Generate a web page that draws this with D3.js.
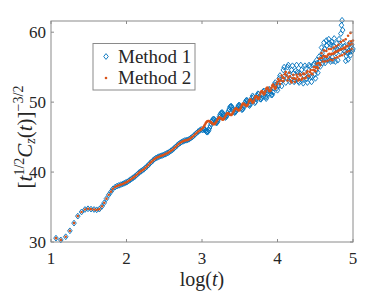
<!DOCTYPE html>
<html>
<head>
<meta charset="utf-8">
<script src="https://cdn.jsdelivr.net/npm/d3@7"></script>
<style>
  body { margin: 0; background: #fff; }
  text { font-family: 'Liberation Serif', 'Times New Roman', serif; fill: #262626; }
</style>
</head>
<body>
<div id="chart"></div>
<script>
// log(t) grid where both methods coincide
const logTEarly = [1.066, 1.13, 1.195, 1.25, 1.305, 1.355, 1.405, 1.45, 1.49, 1.53, 1.57, 1.605, 1.64,
  1.675, 1.705, 1.735, 1.765, 1.795, 1.82, 1.85, 1.875, 1.9, 1.925, 1.95, 1.97, 1.99,
  2.01, 2.03, 2.05, 2.07, 2.09, 2.11, 2.13, 2.15, 2.17, 2.19, 2.21, 2.23, 2.25, 2.27, 2.29,
  2.31, 2.33, 2.35, 2.37, 2.39, 2.41, 2.43, 2.45, 2.47, 2.49, 2.51, 2.53, 2.55, 2.57, 2.59,
  2.61, 2.63, 2.65, 2.67, 2.69, 2.71, 2.73, 2.75, 2.77, 2.79, 2.81, 2.83, 2.85, 2.87, 2.89,
  2.91, 2.93, 2.95, 2.97, 2.99];
const yEarly = [30.55, 30.3, 30.75, 31.6, 32.7, 33.7, 34.3, 34.65, 34.75, 34.7, 34.65, 34.6, 34.7,
  35.1, 35.6, 36.2, 36.75, 37.2, 37.6, 37.85, 38.0, 38.1, 38.2, 38.3, 38.4, 38.5,
  38.6, 38.75, 38.9, 39.05, 39.2, 39.35, 39.55, 39.75, 39.95, 40.1, 40.25, 40.4, 40.6, 40.8, 41.0,
  41.25, 41.45, 41.65, 41.85, 42.0, 42.1, 42.2, 42.3, 42.35, 42.45, 42.55, 42.65, 42.75, 42.9, 43.05,
  43.2, 43.4, 43.6, 43.8, 44.0, 44.15, 44.3, 44.4, 44.5, 44.55, 44.6, 44.7, 44.85, 45.0, 45.2,
  45.4, 45.6, 45.8, 45.95, 46.1];

// log(t) grid for the oscillating tail
const logTLate = [3.01, 3.02, 3.03, 3.04, 3.05, 3.06, 3.07, 3.08, 3.09, 3.10,
  3.11, 3.12, 3.13, 3.14, 3.15, 3.16, 3.17, 3.18, 3.19, 3.20,
  3.21, 3.22, 3.23, 3.24, 3.25, 3.26, 3.27, 3.28, 3.29, 3.30,
  3.31, 3.32, 3.33, 3.34, 3.35, 3.36, 3.37, 3.38, 3.39, 3.40,
  3.41, 3.42, 3.43, 3.44, 3.45, 3.46, 3.47, 3.48, 3.49, 3.50,
  3.51, 3.52, 3.53, 3.54, 3.55, 3.56, 3.57, 3.58, 3.59, 3.60,
  3.61, 3.62, 3.63, 3.64, 3.65, 3.66, 3.67, 3.68, 3.69, 3.70,
  3.71, 3.72, 3.73, 3.74, 3.75, 3.76, 3.77, 3.78, 3.79, 3.80,
  3.81, 3.82, 3.83, 3.84, 3.85, 3.86, 3.87, 3.88, 3.89, 3.90,
  3.91, 3.92, 3.93, 3.94, 3.95, 3.96, 3.97, 3.98, 3.99, 4.00,
  4.011, 4.022, 4.033, 4.044, 4.055, 4.066, 4.077, 4.088, 4.099, 4.11, 4.121, 4.132, 4.143, 4.154,
  4.165, 4.176, 4.187, 4.198, 4.209, 4.22, 4.231, 4.242, 4.253, 4.264, 4.275, 4.286, 4.297, 4.308,
  4.319, 4.33, 4.341, 4.352, 4.363, 4.374, 4.385, 4.396, 4.407, 4.418, 4.429, 4.44, 4.451, 4.462,
  4.473, 4.484, 4.495,
  4.503, 4.511, 4.519, 4.527, 4.535, 4.543, 4.551, 4.559, 4.567, 4.575, 4.583, 4.591, 4.599, 4.607,
  4.615, 4.623, 4.631, 4.639, 4.647, 4.655, 4.663, 4.671, 4.679, 4.687, 4.695, 4.703, 4.711, 4.719,
  4.727, 4.735, 4.743, 4.751, 4.759, 4.767, 4.775, 4.783, 4.791, 4.799, 4.807, 4.815, 4.823, 4.831,
  4.839, 4.847, 4.855, 4.863, 4.871, 4.879, 4.887, 4.895, 4.903, 4.911, 4.919, 4.927, 4.935, 4.943,
  4.951, 4.959, 4.967, 4.975, 4.983, 4.991, 4.999];

const method1Late = [46.0, 46.15, 46.2, 46.05, 45.9, 45.75, 45.7, 45.8, 46.0, 46.3,
  46.6, 46.9, 47.2, 47.45, 47.6, 47.55, 47.4, 47.2, 47.0, 47.1,
  47.3, 47.6, 47.9, 48.2, 48.4, 48.5, 48.5, 48.3, 48.1, 47.9,
  47.8, 47.9, 48.1, 48.4, 48.7, 49.0, 49.3, 49.4, 49.4, 49.2,
  48.9, 48.7, 48.5, 48.55, 48.7, 48.95, 49.2, 49.45, 49.6, 49.5,
  49.3, 49.1, 48.9, 49.0, 49.2, 49.55, 49.9, 50.15, 50.3, 50.2,
  50.0, 49.65, 49.5, 49.7, 50.15, 50.6, 50.9, 50.7, 50.3, 49.9,
  50.05, 50.45, 50.9, 51.2, 51.15, 50.8, 50.45, 50.4, 50.6, 51.1,
  51.5, 51.6, 51.25, 50.8, 50.5, 50.75, 51.2, 51.6, 51.85, 51.7,
  51.3, 51.0, 51.05, 51.4, 52.0, 52.5, 52.8, 52.45, 52.0, 51.7,
  52.3, 53.4, 53.8, 52.9, 52.3, 53.2, 54.6, 55.0, 53.8, 52.8, 53.5, 55.0, 55.3, 54.0,
  52.9, 53.2, 54.6, 55.2, 54.1, 52.9, 53.1, 54.5, 55.3, 54.3, 53.0, 52.8, 54.1, 55.3,
  54.6, 53.1, 52.7, 53.8, 55.2, 54.8, 53.3, 52.8, 53.7, 55.3, 55.1, 53.6, 52.9, 53.6,
  55.3, 55.5, 54.0,
  53.4, 54.5, 56.0, 55.6, 54.2, 55.2, 56.5, 55.8, 55.1, 56.3, 57.8, 57.0, 55.6, 56.4,
  58.5, 57.6, 55.6, 56.2, 58.8, 58.1, 56.0, 56.3, 59.0, 58.4, 56.1, 55.8, 58.2, 58.6,
  56.4, 55.9, 58.0, 59.1, 57.3, 55.8, 57.0, 58.4, 57.5, 56.0, 57.8, 59.0, 58.0, 57.2,
  59.8, 61.0, 61.7, 60.3, 58.5, 57.4, 58.0, 57.2, 55.9, 56.6, 57.8, 57.0, 56.1, 57.3,
  58.4, 57.2, 56.7, 57.8, 58.2, 57.3, 57.6];

const method2Late = [46.3, 46.45, 46.6, 46.8, 47.0, 47.15, 47.25, 47.3, 47.3, 47.25,
  47.2, 47.1, 47.0, 46.9, 46.85, 46.85, 46.9, 47.05, 47.2, 47.4,
  47.6, 47.75, 47.8, 47.75, 47.7, 47.6, 47.5, 47.5, 47.6, 47.8,
  48.0, 48.2, 48.35, 48.4, 48.4, 48.3, 48.2, 48.15, 48.15, 48.3,
  48.5, 48.7, 48.9, 49.05, 49.1, 49.05, 48.95, 48.85, 48.8, 48.9,
  49.1, 49.35, 49.6, 49.75, 49.8, 49.7, 49.6, 49.5, 49.4, 49.5,
  49.7, 50.05, 50.3, 50.4, 50.3, 50.1, 49.9, 50.0, 50.25, 50.6,
  50.85, 50.85, 50.7, 50.5, 50.45, 50.7, 51.1, 51.4, 51.6, 51.5,
  51.3, 51.1, 51.25, 51.55, 51.9, 52.05, 52.05, 51.8, 51.6, 51.55,
  51.7, 52.05, 52.35, 52.5, 52.3, 52.05, 51.9, 52.15, 52.55, 52.9,
  53.3, 53.0, 52.6, 53.1, 53.8, 53.5, 53.0, 53.4, 54.0, 54.3, 53.8, 53.1, 53.5, 54.2,
  53.7, 53.0, 52.8, 53.4, 53.9, 53.4, 52.9, 53.3, 53.9, 53.6, 53.1, 53.3, 54.0, 53.8,
  53.2, 53.4, 54.1, 54.0, 53.4, 53.5, 54.2, 54.4, 53.8, 53.7, 54.3, 54.6, 54.1, 54.0,
  54.6, 55.0, 54.5,
  54.4, 55.0, 55.5, 55.0, 54.8, 55.6, 56.2, 55.6, 55.3, 56.3, 57.0, 56.3, 55.8, 56.6,
  57.4, 56.6, 55.8, 56.5, 57.3, 56.5, 55.9, 56.8, 57.6, 56.9, 56.1, 56.8, 57.6, 56.9,
  56.0, 56.9, 57.8, 57.0, 56.3, 57.2, 58.0, 57.2, 56.4, 57.3, 58.2, 57.4, 56.6, 57.5,
  58.6, 57.6, 56.7, 57.6, 58.8, 57.8, 56.9, 57.7, 59.0, 58.0, 57.2, 58.0, 59.5, 58.4,
  57.3, 58.2, 59.9, 58.7, 57.6, 58.3, 58.8];

const xTicks = [1, 2, 3, 4, 5];
const yTicks = [30, 40, 50, 60];
const seriesNames = ['Method 1', 'Method 2'];

const W = 390, H = 293;
const margin = { top: 21, right: 37, bottom: 51, left: 51 };
const width = W - margin.left - margin.right,
  height = H - margin.top - margin.bottom;

const blue = '#0072BD', orange = '#D95319', frame = '#8a8a8a';

const x = d3.scaleLinear().domain([1, 5]).range([0, width]);
const y = d3.scaleLinear().domain([30, 61.6]).range([height, 0]);

const method1 = logTEarly.map((t, i) => [t, yEarly[i]])
  .concat(logTLate.map((t, i) => [t, method1Late[i]]));
const method2 = logTEarly.map((t, i) => [t, yEarly[i]])
  .concat(logTLate.map((t, i) => [t, method2Late[i]]));

const svg = d3.select('#chart').append('svg')
  .attr('width', W).attr('height', H);

const g = svg.append('g')
  .attr('transform', `translate(${margin.left},${margin.top})`);

// diamond marker, a bit taller than wide like MATLAB's 'd'
const diamond = 'M0,-2.9L2.3,0L0,2.9L-2.3,0Z';

g.append('g').selectAll('path')
  .data(method1)
  .join('path')
  .attr('d', diamond)
  .attr('transform', (d) => `translate(${x(d[0])},${y(d[1])})`)
  .attr('fill', 'none')
  .attr('stroke', blue)
  .attr('stroke-width', 0.9);

g.append('g').selectAll('circle')
  .data(method2)
  .join('circle')
  .attr('cx', (d) => x(d[0]))
  .attr('cy', (d) => y(d[1]))
  .attr('r', 1.3)
  .attr('fill', orange);

// box and ticks (inward on all four sides)
g.append('rect')
  .attr('width', width).attr('height', height)
  .attr('fill', 'none').attr('stroke', frame).attr('stroke-width', 1);

const tickLen = 3;
xTicks.forEach((t) => {
  g.append('line').attr('x1', x(t)).attr('x2', x(t)).attr('y1', height).attr('y2', height - tickLen)
    .attr('stroke', frame);
  g.append('line').attr('x1', x(t)).attr('x2', x(t)).attr('y1', 0).attr('y2', tickLen)
    .attr('stroke', frame);
});
yTicks.forEach((t) => {
  g.append('line').attr('x1', 0).attr('x2', tickLen).attr('y1', y(t)).attr('y2', y(t))
    .attr('stroke', frame);
  g.append('line').attr('x1', width).attr('x2', width - tickLen).attr('y1', y(t)).attr('y2', y(t))
    .attr('stroke', frame);
});

g.selectAll('.xlab')
  .data(xTicks)
  .join('text')
  .attr('class', 'xlab')
  .attr('x', (d) => x(d))
  .attr('y', height + 21.5)
  .attr('text-anchor', 'middle')
  .style('font-size', '17px')
  .text((d) => d);

g.selectAll('.ylab')
  .data(yTicks)
  .join('text')
  .attr('class', 'ylab')
  .attr('x', -5)
  .attr('y', (d) => y(d) + 5.5)
  .attr('text-anchor', 'end')
  .style('font-size', '17px')
  .text((d) => d);

// x axis label: log(t)
const xl = svg.append('text')
  .attr('x', margin.left + width / 2)
  .attr('y', 286)
  .attr('text-anchor', 'middle')
  .style('font-size', '20px');
xl.append('tspan').text('log(');
xl.append('tspan').style('font-style', 'italic').text('t');
xl.append('tspan').text(')');

// y axis label: [t^{1/2} C_z(t)]^{-3/2}
const yl = svg.append('text')
  .attr('transform', 'translate(32,137) rotate(-90)')
  .attr('text-anchor', 'middle')
  .style('font-size', '21px');
yl.append('tspan').text('[');
yl.append('tspan').style('font-style', 'italic').text('t');
yl.append('tspan').attr('dy', -8).style('font-size', '14px').text('1/2');
yl.append('tspan').attr('dy', 8).style('font-style', 'italic').text('C');
yl.append('tspan').attr('dy', 3).style('font-size', '14px').style('font-style', 'italic').text('z');
yl.append('tspan').attr('dy', -3).text('(');
yl.append('tspan').style('font-style', 'italic').text('t');
yl.append('tspan').text(')]');
yl.append('tspan').attr('dy', -9).style('font-size', '14px').text('\u22123/2');

// legend
const lg = svg.append('g').attr('transform', 'translate(93,43.5)');
lg.append('rect')
  .attr('width', 102).attr('height', 46.5)
  .attr('fill', '#fff').attr('stroke', frame).attr('stroke-width', 1);
lg.append('path')
  .attr('d', diamond)
  .attr('transform', 'translate(13,13)')
  .attr('fill', 'none').attr('stroke', blue).attr('stroke-width', 0.9);
lg.append('circle')
  .attr('cx', 13).attr('cy', 34.5).attr('r', 1.3).attr('fill', orange);
lg.selectAll('.leg')
  .data(seriesNames)
  .join('text')
  .attr('class', 'leg')
  .attr('x', 25)
  .attr('y', (d, i) => 19.5 + i * 21)
  .style('font-size', '19px')
  .text((d) => d);
</script>
</body>
</html>
